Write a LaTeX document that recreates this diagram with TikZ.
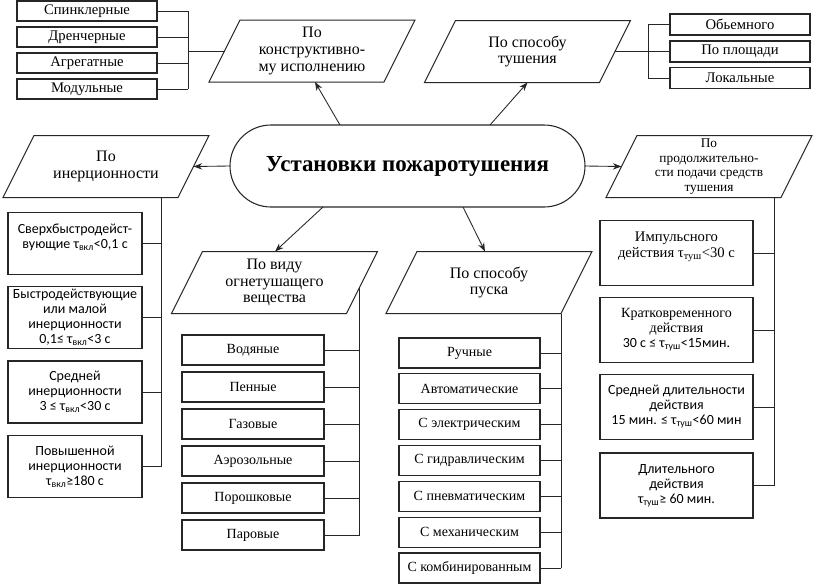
\documentclass[tikz,border=0pt]{standalone}
\usepackage{fontspec}
\setmainfont{Liberation Serif}
\newfontfamily\calib{Carlito}
\usetikzlibrary{shapes.geometric,arrows.meta,calc}
\newcommand\drawpara[1]{\draw[pline] (#1.south west) -- ($(#1.north west)+(31,0)$) -- (#1.north east) -- ($(#1.south east)+(-31,0)$) -- cycle;}
\begin{document}
\begin{tikzpicture}[x=0.75pt,y=-0.75pt,
  ln/.style={draw=black!85, line width=0.65pt},
  arr/.style={ln, -{Stealth[length=6.5pt,width=4.8pt]}},
  pline/.style={draw=black!85, line width=0.75pt, line join=miter},
  sbox/.style={draw=black!85, line width=0.9pt, rectangle, inner sep=1pt, outer sep=0pt, align=center, font=\fontsize{10.5}{12}\selectfont},
  tbox/.style={sbox, minimum width=105pt, minimum height=15pt, font=\fontsize{11}{12}\selectfont},
  mbox/.style={sbox, minimum height=22.5pt},
  cbox/.style={sbox, font=\calib\fontsize{10.5}{11.2}\selectfont},
  para/.style={rectangle, minimum width=154.5pt, minimum height=46.5pt, inner sep=1pt, outer sep=0pt, align=center, font=\fontsize{12}{12.5}\selectfont},
  main/.style={draw=black!85, line width=0.8pt, rectangle, rounded corners=30.75pt, minimum width=266.25pt, minimum height=61.5pt, outer sep=0pt, font=\bfseries\fontsize{17.2}{19}\selectfont},
]
\useasboundingbox (0,0) rectangle (817,586);

% central node
\node[main] (ust) at (407.5,166) {Установки пожаротушения};

% parallelograms
\node[para] (kp) at (312,51) {По\\конструктивно-\\му исполнению};
\node[para] (st) at (527.5,51.5) {По способу\\тушения};
\node[para] (in) at (106,166.5) {По\\инерционности};
\node[para, font=\fontsize{10}{11}\selectfont] (pd) at (709,166.5) {По\\продолжительно-\\сти подачи средств\\тушения};
\node[para] (pv) at (274.5,282.5) {По виду\\огнетушащего\\вещества};
\node[para] (pp) at (489,282.5) {По способу\\пуска};
\drawpara{kp}\drawpara{st}\drawpara{in}\drawpara{pd}\drawpara{pv}\drawpara{pp}

% top-left boxes
\node[tbox] (tl1) at (87,11) {Спинклерные};
\node[tbox] (tl2) at (87,37) {Дренчерные};
\node[tbox] (tl3) at (87,63) {Агрегатные};
\node[tbox] (tl4) at (87,89) {Модульные};

% top-right boxes
\node[tbox, minimum height=15.75pt] (tr1) at (740,24.5) {Обьемного};
\node[tbox, minimum height=15.75pt] (tr2) at (740,51.5) {По площади};
\node[tbox, minimum height=15.75pt] (tr3) at (740,78) {Локальные};

% left column
\node[cbox, minimum width=100.5pt, minimum height=46.5pt] (lc1) at (75,243.5) {Сверхбыстродейст-\\вующие τ\textsubscript{вкл}<0,1 с\\\mbox{}};
\node[cbox, minimum width=100.5pt, minimum height=46.5pt] (lc2) at (75,317.5) {Быстродействующие\\или малой\\инерционности\\0,1≤ τ\textsubscript{вкл}<3 с};
\node[cbox, minimum width=100.5pt, minimum height=46.5pt] (lc3) at (75,392) {Средней\\инерционности\\3 ≤ τ\textsubscript{вкл}<30 с};
\node[cbox, minimum width=100.5pt, minimum height=46.5pt] (lc4) at (75,466.5) {Повышенной\\инерционности\\τ\textsubscript{вкл}≥180 с};

% mid-left boxes
\node[mbox, minimum width=106.5pt] (ml1) at (253,350) {Водяные};
\node[mbox, minimum width=106.5pt] (ml2) at (253,387) {Пенные};
\node[mbox, minimum width=106.5pt] (ml3) at (253,424) {Газовые};
\node[mbox, minimum width=106.5pt] (ml4) at (253,461) {Аэрозольные};
\node[mbox, minimum width=106.5pt] (ml5) at (253,498) {Порошковые};
\node[mbox, minimum width=106.5pt] (ml6) at (253,535) {Паровые};

% mid-right boxes
\node[mbox, minimum width=105.75pt] (mr1) at (469.5,353) {Ручные};
\node[mbox, minimum width=105.75pt] (mr2) at (469.5,388.8) {Автоматические};
\node[mbox, minimum width=105.75pt] (mr3) at (469.5,424.7) {С электрическим};
\node[mbox, minimum width=105.75pt] (mr4) at (469.5,460.5) {С гидравлическим};
\node[mbox, minimum width=105.75pt] (mr5) at (469.5,496.3) {С пневматическим};
\node[mbox, minimum width=105.75pt] (mr6) at (469.5,532.2) {С механическим};
\node[mbox, minimum width=105.75pt] (mr7) at (469.5,568) {С комбинированным};

% right column
\node[sbox, minimum width=114.75pt, minimum height=48.75pt, font=\fontsize{11}{12.5}\selectfont] (rc1) at (676.5,253) {Импульсного\\действия τ\textsubscript{туш}<30 с\\\mbox{}};
\node[sbox, minimum width=114.75pt, minimum height=48.75pt, font=\fontsize{10.5}{11.2}\selectfont] (rc2) at (676.5,330) {Кратковременного\\действия\\{\calib 30 с ≤ τ\textsubscript{туш}<15мин.}};
\node[cbox, minimum width=114.75pt, minimum height=48.75pt] (rc3) at (676.5,407) {Средней длительности\\действия\\15 мин. ≤ τ\textsubscript{туш}<60 мин};
\node[cbox, minimum width=114.75pt, minimum height=48.75pt] (rc4) at (676.5,485.5) {Длительного\\действия\\τ\textsubscript{туш}≥ 60 мин.};

% arrows from central node
\draw[arr] ($(ust.north)+(-67.5,0)$) -- ($(kp.south)+(3,0)$);
\draw[arr] ($(ust.north)+(82.5,0)$) -- (st.south);
\draw[arr] (ust.west) -- ($(in.east)+(-15.5,0)$);
\draw[arr] (ust.east) -- ($(pd.west)+(15.5,0)$);
\draw[arr] ($(ust.south)+(-84.5,0)$) -- ($(pv.north)+(0.5,0)$);
\draw[arr] ($(ust.south)+(55.5,0)$) -- ($(pp.north)+(-4,0)$);

% top-left bracket
\coordinate (b1) at (188,51);
\foreach \i in {1,...,4} \draw[ln] (tl\i.east) -- (tl\i.east -| b1);
\draw[ln] (tl1.east -| b1) -- (tl4.east -| b1);
\draw[ln] (b1) -- ($(kp.west)+(15.5,0)$);

% top-right bracket
\coordinate (b2) at (648,51.5);
\draw[ln] ($(st.east)+(-15.5,0)$) -- (tr2.west);
\draw[ln] (tr1.west) -- (tr1.west -| b2) -- (tr3.west -| b2) -- (tr3.west);

% left bracket
\coordinate (b3) at (161,0);
\draw[ln] (b3 |- in.south) -- (b3 |- lc4.east);
\foreach \i in {1,...,4} \draw[ln] (lc\i.east) -- (lc\i.east -| b3);

% mid-left bracket
\coordinate (b4) at ($(pv.north east)!0.58!($(pv.south east)+(-31,0)$)$);
\draw[ln] (b4) -- (b4 |- ml6.east);
\foreach \i in {1,...,6} \draw[ln] (ml\i.east) -- (ml\i.east -| b4);

% mid-right bracket
\coordinate (b5) at ($(pp.south east)+(-31,0)$);
\draw[ln] (b5) -- (b5 |- mr7.east);
\foreach \i in {1,...,7} \draw[ln] (mr\i.east) -- (mr\i.east -| b5);

% right bracket
\coordinate (b6) at (774,0);
\draw[ln] (b6 |- pd.south) -- (b6 |- rc4.east);
\foreach \i in {1,...,4} \draw[ln] (rc\i.east) -- (rc\i.east -| b6);
\end{tikzpicture}
\end{document}
